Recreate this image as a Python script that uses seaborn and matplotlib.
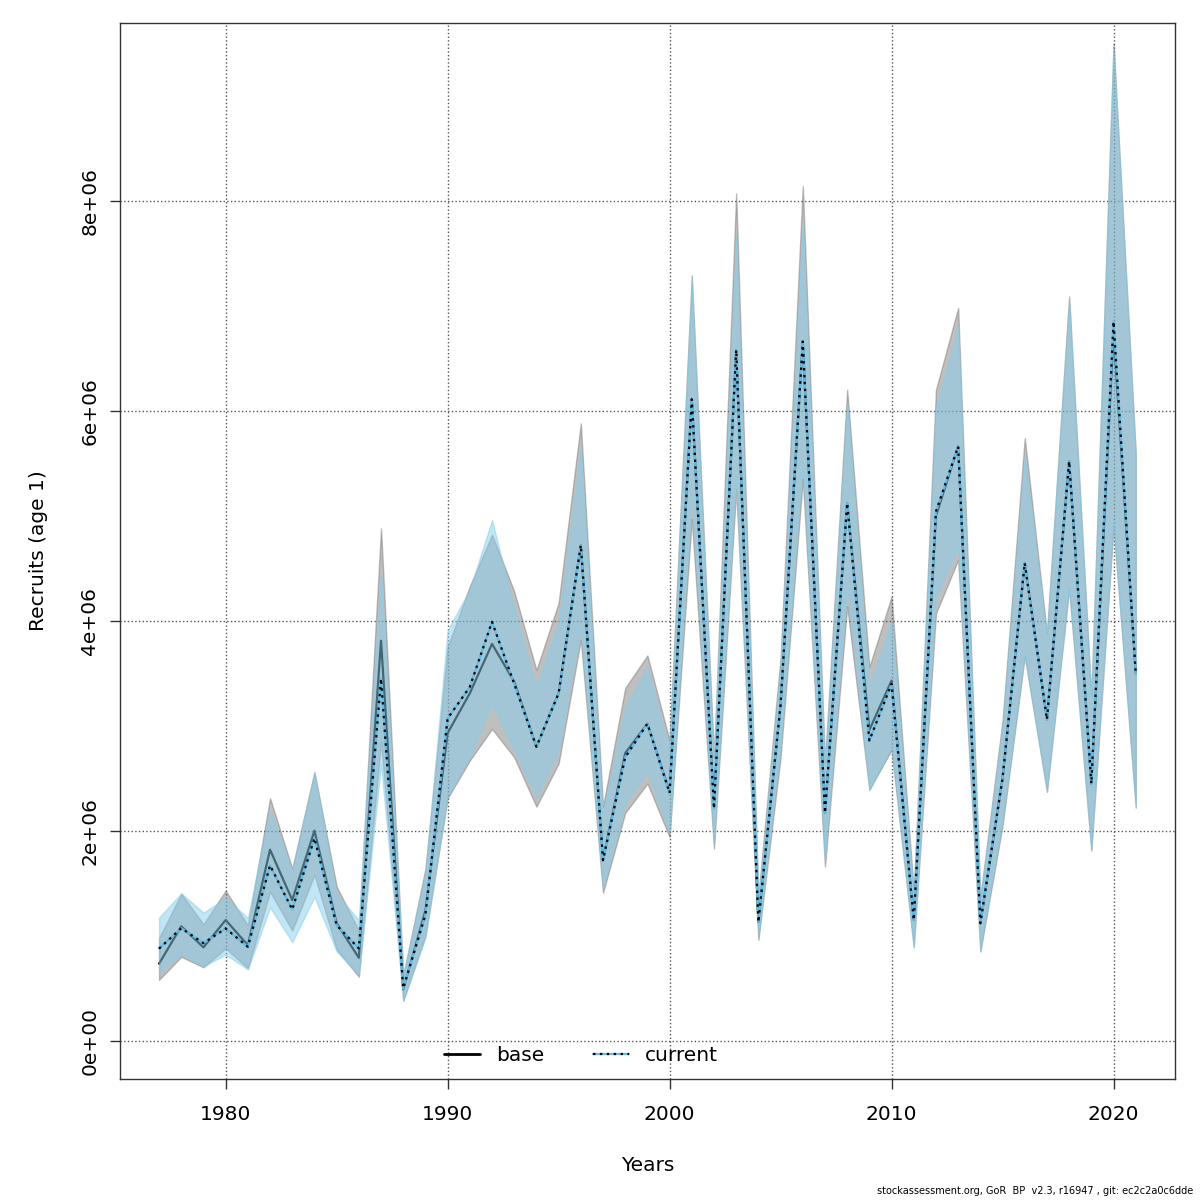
import matplotlib
matplotlib.use("Agg")
import matplotlib.pyplot as plt
import numpy as np
import seaborn as sns
from matplotlib.lines import Line2D
from matplotlib.legend_handler import HandlerTuple
from matplotlib.ticker import FuncFormatter

# recruits in millions
years = np.arange(1977, 2022)

base_val = [0.735, 1.09, 0.89, 1.15, 0.91, 1.82, 1.34, 2.00, 1.12, 0.79,
            3.81, 0.49, 1.24, 2.93, 3.31, 3.78, 3.42, 2.80, 3.31, 4.72,
            1.72, 2.74, 3.02, 2.37, 6.11, 2.23, 6.58, 1.13, 3.20, 6.66,
            2.17, 5.12, 2.96, 3.43, 1.15, 5.00, 5.66, 1.12, 2.50, 4.55,
            3.06, 5.52, 2.45, 6.75, 3.50]
base_lo = [0.58, 0.80, 0.70, 0.88, 0.69, 1.42, 1.05, 1.58, 0.87, 0.61,
           2.85, 0.38, 1.00, 2.31, 2.67, 2.97, 2.70, 2.23, 2.64, 3.82,
           1.41, 2.17, 2.45, 1.94, 4.97, 1.83, 5.25, 0.96, 2.70, 5.35,
           1.66, 4.14, 2.39, 2.77, 0.89, 4.07, 4.58, 0.85, 2.05, 3.66,
           2.37, 4.30, 1.81, 4.90, 2.22]
base_hi = [0.98, 1.40, 1.11, 1.43, 1.10, 2.31, 1.64, 2.56, 1.47, 1.05,
           4.88, 0.62, 1.64, 3.75, 4.33, 4.82, 4.28, 3.53, 4.17, 5.88,
           2.23, 3.36, 3.67, 2.86, 7.29, 2.70, 8.07, 1.38, 3.65, 8.14,
           2.65, 6.20, 3.56, 4.23, 1.42, 6.20, 6.98, 1.37, 3.05, 5.74,
           3.88, 7.09, 3.27, 9.50, 5.60]

cur_val = [0.878, 1.072, 0.93, 1.07, 0.895, 1.67, 1.25, 1.93, 1.10, 0.88,
           3.45, 0.50, 1.20, 3.07, 3.37, 3.99, 3.40, 2.80, 3.31, 4.72,
           1.72, 2.70, 3.02, 2.36, 6.11, 2.21, 6.58, 1.13, 3.20, 6.66,
           2.17, 5.12, 2.86, 3.40, 1.15, 5.04, 5.66, 1.12, 2.50, 4.55,
           3.06, 5.52, 2.45, 6.85, 3.50]
cur_lo = [0.657, 0.82, 0.71, 0.82, 0.68, 1.27, 0.94, 1.37, 0.85, 0.63,
          2.63, 0.39, 0.98, 2.33, 2.70, 3.21, 2.77, 2.32, 2.77, 3.94,
          1.45, 2.26, 2.56, 1.98, 5.21, 1.90, 5.36, 1.00, 2.80, 5.50,
          1.72, 4.33, 2.39, 2.80, 0.90, 4.22, 4.71, 0.87, 2.10, 3.69,
          2.39, 4.33, 1.83, 4.93, 2.24]
cur_hi = [1.174, 1.405, 1.22, 1.36, 1.17, 2.20, 1.62, 2.55, 1.40, 1.15,
          4.47, 0.63, 1.60, 3.91, 4.30, 4.96, 4.12, 3.37, 3.99, 5.66,
          2.15, 3.18, 3.56, 2.77, 7.25, 2.62, 7.66, 1.33, 3.55, 7.82,
          2.60, 6.07, 3.37, 4.00, 1.40, 6.03, 6.80, 1.35, 3.00, 5.58,
          3.85, 7.05, 3.25, 9.45, 5.58]

x_ticks = [1980, 1990, 2000, 2010, 2020]
y_ticks = [0, 2e6, 4e6, 6e6, 8e6]

sns.set_style("white")
plt.rcParams["font.family"] = ["DejaVu Sans"]
plt.rcParams["text.color"] = "black"
plt.rcParams["axes.labelcolor"] = "black"
plt.rcParams["xtick.color"] = "black"
plt.rcParams["ytick.color"] = "black"

CUR_BLUE = "#5fbde8"
DOTS = (0, (1.1, 2.0))


def scale(v):
    return np.array(v) * 1e6


fig = plt.figure(figsize=(12, 12), dpi=100)
ax = fig.add_axes([0.1, 0.101, 0.879, 0.880])

# base: grey band + black line
ax.fill_between(years, scale(base_lo), scale(base_hi), color="#808080",
                alpha=0.5, edgecolor="#808080", linewidth=1, zorder=2)
sns.lineplot(x=years, y=scale(base_val), ax=ax, color="black", linewidth=1.6, zorder=3)

# current: light blue band + blue/black dotted line
ax.fill_between(years, scale(cur_lo), scale(cur_hi), color="#87ceeb",
                alpha=0.5, edgecolor="#87ceeb", linewidth=1, zorder=4)
sns.lineplot(x=years, y=scale(cur_val), ax=ax, color=CUR_BLUE, linewidth=1.6, zorder=5)
sns.lineplot(x=years, y=scale(cur_val), ax=ax, color="black", linewidth=1.6,
             linestyle=DOTS, zorder=6)

ax.set_xlim(1975.24, 2022.76)
ax.set_ylim(-0.362e6, 9.695e6)
ax.set_xticks(x_ticks)
ax.set_yticks(y_ticks)
ax.yaxis.set_major_formatter(FuncFormatter(lambda v, p: f"{v:.0e}"))
ax.grid(True, linestyle=":", color="#555555", linewidth=1, zorder=7)
ax.set_axisbelow(False)

ax.tick_params(axis="both", direction="out", length=7, width=1, color="#333333",
               labelsize=14.5, bottom=True, left=True)
ax.tick_params(axis="x", pad=12)
ax.tick_params(axis="y", pad=8)
for lab in ax.get_yticklabels():
    lab.set_rotation(90)
    lab.set_va("center")

for spine in ax.spines.values():
    spine.set_color("#333333")
    spine.set_linewidth(1)

ax.set_xlabel("Years", fontsize=14.5, labelpad=23)
ax.set_ylabel("Recruits (age 1)", fontsize=14.5, labelpad=23)

h_base = Line2D([], [], color="black", linewidth=2)
h_cur = (Line2D([], [], color=CUR_BLUE, linewidth=1.6),
         Line2D([], [], color="black", linewidth=1.6, linestyle=DOTS))
ax.legend([h_base, h_cur], ["base", "current"], ncol=2, frameon=False,
          loc="center", bbox_to_anchor=(0.437, 0.022), fontsize=14.5,
          handlelength=1.8, columnspacing=2.4,
          handler_map={tuple: HandlerTuple(ndivide=1)})

fig.text(0.994, 0.003, "stockassessment.org, GoR  BP  v2.3, r16947 , git: ec2c2a0c6dde",
         ha="right", va="bottom", fontsize=7)

fig.savefig("out.png", dpi=100)
